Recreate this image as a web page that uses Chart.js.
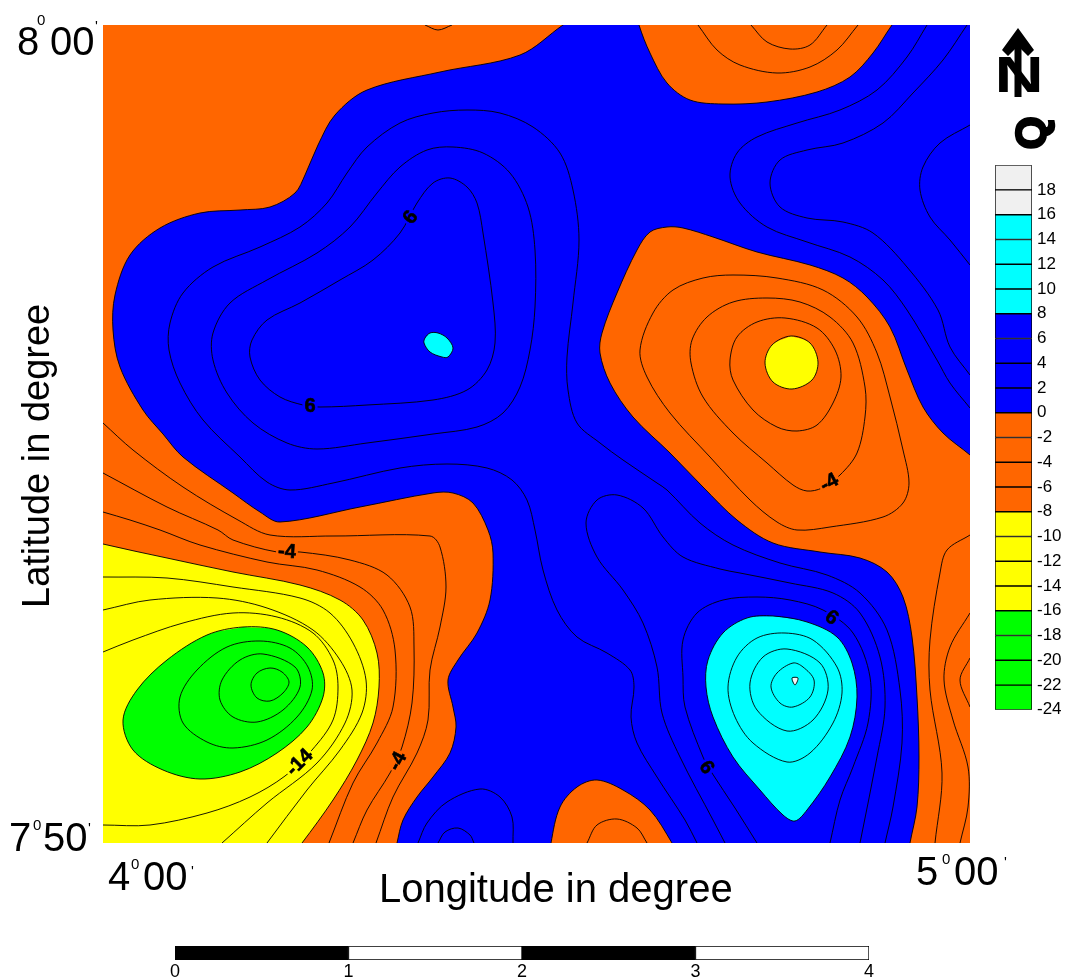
<!DOCTYPE html>
<html>
<head>
<meta charset="utf-8">
<title>Q map</title>
<script src="https://cdn.jsdelivr.net/npm/chart.js@4"></script>
<style>
    html, body { margin: 0; padding: 0; background: #fff; overflow: hidden; }
    canvas { position: absolute; display: block; }
    #mapChart { left: 0; top: 0; }
    #legendChart { left: 994px; top: 150px; }
    #scaleChart { left: 165px; top: 940px; }
</style>
</head>
<body>
<canvas id="mapChart" width="1066" height="978"></canvas>
<canvas id="legendChart" width="72" height="575"></canvas>
<canvas id="scaleChart" width="715" height="38"></canvas>
<script>
// --- Datos del mapa: [x, y] en unidades de mapa (0-867, 0-818) ---

const mapWidth = 867;
const mapHeight = 818;
const curveTension = 0.33;

// zonas rellenas
const baseBlue = [[-60, -60], [930, -60], [930, 880], [-60, 880]];
const orangeWest = [[507, 848], [460, 818], [417, 788], [337, 771], [264, 753], [232, 728], [215, 698], [202, 668], [192, 650], [167, 636], [137, 633], [97, 630], [57, 615], [27, 588], [12, 548], [10, 513], [17, 476], [40, 433], [60, 409], [80, 386], [130, 350], [157, 331], [177, 321], [257, 336], [330, 350], [350, 350], [370, 340], [385, 313], [390, 290], [387, 243], [374, 210], [355, 183], [345, 163], [350, 136], [353, 116], [347, 90], [330, 66], [314, 46], [300, 23], [294, 0], [285, -40], [-60, -60], [-60, 880], [507, 880]];
const orangeNorth = [[527, 853], [536, 818], [547, 790], [564, 760], [587, 743], [620, 739], [664, 741], [714, 751], [747, 766], [770, 790], [789, 818], [812, 848], [812, 880], [527, 880]];
const orangeEast = [[907, 353], [867, 388], [840, 410], [820, 436], [804, 473], [787, 516], [764, 546], [740, 565], [707, 578], [654, 591], [610, 606], [580, 615], [564, 616], [547, 611], [534, 593], [514, 550], [499, 510], [497, 490], [507, 460], [530, 426], [567, 390], [600, 356], [634, 323], [670, 300], [717, 291], [757, 285], [784, 271], [800, 246], [809, 206], [814, 146], [816, 86], [814, 36], [807, 0], [800, -40], [930, -60], [930, 353]];
const orangeSouth = [[445, -27], [448, 0], [457, 36], [474, 56], [494, 63], [520, 53], [547, 33], [569, 0], [585, -30]];
const yellowWest = [[-40, 310], [0, 299], [64, 285], [130, 271], [197, 258], [237, 243], [260, 223], [274, 190], [276, 156], [270, 120], [254, 83], [230, 43], [199, 0], [175, -30], [-60, -60], [-60, 310]];

// zonas cerradas
const greenCore = [[140, 216], [104, 208], [64, 183], [34, 153], [20, 123], [30, 93], [60, 73], [97, 64], [137, 71], [174, 90], [204, 116], [220, 146], [220, 170], [204, 196], [174, 213]];
const yellowCore = [[688, 507], [707, 500], [715, 481], [709, 463], [689, 454], [670, 461], [662, 480], [669, 498]];
const cyanDrop = [[670, 227], [644, 225], [620, 210], [605, 183], [603, 156], [610, 126], [630, 86], [657, 53], [680, 28], [692, 22], [704, 33], [727, 66], [747, 106], [754, 146], [749, 180], [734, 206], [704, 221]];
const cyanIsland = [[322, 505], [327, 510], [335, 510], [344, 505], [350, 495], [345, 486], [339, 486], [327, 491], [321, 500]];
const whitePeak = [[689, 165], [695, 165], [692, 158]];

// isolineas cerradas
const greenRing1 = [[157, 202], [124, 196], [94, 173], [77, 146], [80, 120], [104, 101], [130, 95], [164, 103], [194, 126], [209, 153], [205, 176], [187, 195]];
const greenRing2 = [[160, 189], [137, 183], [119, 163], [117, 143], [130, 126], [154, 121], [180, 133], [197, 156], [192, 176]];
const greenRing3 = [[167, 175], [154, 170], [148, 158], [154, 145], [167, 142], [180, 150], [186, 161], [179, 171]];
const cyanRing1 = [[682, 210], [654, 205], [634, 186], [625, 156], [632, 126], [650, 100], [684, 81], [707, 90], [730, 120], [739, 150], [734, 176], [710, 203]];
const cyanRing2 = [[684, 194], [660, 186], [647, 160], [654, 133], [684, 112], [710, 123], [725, 153], [717, 180]];
const cyanRing3 = [[690, 180], [674, 170], [668, 156], [677, 140], [690, 136], [707, 146], [711, 163], [700, 176]];
const blueRing2 = [[350, 696], [324, 693], [297, 676], [274, 650], [247, 616], [214, 590], [164, 563], [127, 540], [110, 510], [110, 483], [124, 450], [150, 420], [184, 400], [214, 394], [264, 400], [330, 409], [374, 416], [400, 430], [417, 456], [427, 493], [432, 536], [432, 593], [425, 636], [407, 670], [380, 690]];
const blueRing3 = [[347, 665], [330, 660], [314, 640], [297, 610], [270, 583], [237, 563], [197, 540], [164, 523], [149, 503], [147, 486], [157, 463], [177, 446], [200, 438], [217, 436], [264, 438], [330, 443], [364, 453], [384, 473], [392, 500], [390, 540], [380, 610], [374, 640], [364, 656]];
const eastRing1 = [[630, 568], [600, 565], [570, 553], [550, 530], [537, 493], [544, 466], [567, 430], [607, 386], [647, 343], [674, 321], [694, 313], [727, 316], [780, 326], [800, 340], [806, 360], [800, 393], [787, 446], [774, 490], [754, 526], [720, 553], [674, 565]];
const eastRing2 = [[664, 545], [630, 541], [604, 526], [589, 503], [588, 480], [600, 446], [630, 410], [664, 380], [690, 358], [704, 352], [719, 355], [737, 368], [754, 390], [762, 426], [762, 456], [750, 500], [727, 526], [697, 541]];
const eastRing3 = [[682, 525], [654, 521], [634, 506], [627, 483], [630, 463], [650, 433], [674, 416], [694, 412], [714, 418], [730, 440], [738, 466], [732, 493], [714, 515]];

// isolineas abiertas (salen por el borde del mapa)
const yellowLine1 = [[0, 266], [64, 265], [130, 256], [197, 245], [227, 230], [250, 200], [263, 163], [259, 130], [237, 93], [204, 53], [164, 0]];
const yellowLine2 = [[0, 233], [47, 243], [114, 245], [164, 235], [210, 213], [237, 183], [249, 153], [242, 120], [214, 80], [164, 40], [119, 0]];
const yellowLine3 = [[0, 18], [47, 18], [104, 30], [147, 46], [182, 67], [209, 93], [230, 123], [235, 156], [230, 183], [210, 210], [174, 226], [130, 230], [80, 220], [30, 203], [0, 191]];
const westLine1 = [[0, 331], [27, 323], [57, 313], [97, 298], [164, 281], [214, 273], [257, 256], [280, 233], [292, 193], [290, 136], [274, 100], [250, 60], [226, 0]];
const westLine2 = [[0, 370], [64, 336], [115, 313], [130, 303], [174, 291], [197, 291], [247, 283], [284, 268], [307, 236], [311, 196], [309, 140], [299, 96], [287, 70], [264, 33], [250, 0]];
const westLine3 = [[0, 420], [30, 393], [80, 356], [135, 323], [167, 308], [230, 307], [327, 307], [337, 296], [343, 256], [337, 216], [327, 173], [325, 123], [314, 90], [290, 46], [273, 0]];
const topTick = [[322, 818], [335, 813], [349, 818]];
const blueLongLine = [[782, 0], [790, 36], [799, 100], [797, 153], [784, 213], [757, 250], [724, 268], [677, 280], [630, 298], [597, 320], [564, 353], [554, 360], [520, 383], [497, 400], [474, 420], [465, 453], [464, 486], [470, 540], [476, 603], [470, 653], [457, 690], [430, 716], [397, 730], [364, 733], [330, 730], [297, 720], [264, 696], [244, 670], [224, 640], [197, 616], [157, 596], [110, 576], [80, 550], [67, 520], [66, 493], [77, 460], [100, 423], [137, 386], [164, 361], [187, 353], [230, 360], [297, 375], [344, 379], [384, 375], [409, 363], [424, 343], [432, 313], [440, 273], [454, 233], [474, 206], [504, 190], [527, 173], [531, 156], [528, 126], [534, 100], [554, 66], [582, 23], [594, 0]];
const blueHookLine = [[622, 0], [610, 23], [577, 86], [559, 130], [554, 176], [540, 220], [520, 253], [494, 286], [483, 320], [494, 343], [514, 348], [540, 335], [560, 306], [580, 286], [617, 274], [637, 270], [687, 260], [730, 250], [757, 230], [777, 186], [782, 136], [774, 86], [757, 0]];
const blueDropLine = [[727, 0], [737, 43], [750, 76], [765, 120], [767, 166], [750, 210], [720, 233], [687, 243], [654, 246], [620, 243], [594, 230], [580, 203], [580, 166], [582, 136], [600, 86], [609, 70], [632, 35], [654, 0]];
const northLine1 = [[595, 818], [614, 793], [637, 778], [674, 770], [707, 776], [734, 793], [755, 818]];
const northLine2 = [[648, 818], [664, 801], [687, 794], [707, 798], [724, 818]];
const neLine1 = [[824, 818], [804, 786], [774, 753], [737, 733], [694, 720], [654, 706], [634, 690], [627, 666], [637, 640], [664, 616], [704, 601], [747, 586], [780, 563], [804, 533], [834, 483], [847, 460], [867, 435]];
const neLine2 = [[864, 818], [840, 783], [810, 750], [780, 720], [740, 700], [704, 693], [677, 683], [667, 660], [677, 636], [704, 625], [740, 621], [770, 610], [804, 576], [835, 533], [847, 496], [867, 468]];
const neLine3 = [[867, 718], [837, 700], [820, 676], [817, 653], [827, 626], [847, 603], [867, 578]];
const farEast1 = [[867, 308], [844, 293], [837, 270], [827, 203], [827, 153], [839, 70], [832, 0]];
const farEast2 = [[867, 230], [847, 196], [841, 163], [850, 123], [865, 76], [865, 36], [857, 0]];
const farEast3 = [[867, 185], [857, 163], [867, 136]];
const southBlue1 = [[315, 0], [324, 20], [344, 41], [377, 54], [397, 46], [409, 26], [410, 0]];
const southBlue2 = [[335, 0], [342, 11], [355, 15], [367, 8], [371, 0]];
const southOrange1 = [[484, 0], [494, 18], [514, 24], [534, 15], [544, 0]];

// etiquetas de isolinea
const contourLabels = ['6', '6', '-4', '-14', '-4', '-4', '6', '6'];
const contourLabelSpots = [[307, 626], [207, 438], [184, 292], [196, 81], [294, 82], [726, 361], [729, 226], [604, 76]];

// leyenda y barra de escala
const legendBreaks = [-24, -22, -20, -18, -16, -14, -12, -10, -8, -6, -4, -2, 0, 2, 4, 6, 8, 10, 12, 14, 16, 18, 20];
const scaleBarBreaks = [0, 1, 2, 3, 4];

const ORANGE = '#ff6600';
const YELLOW = '#ffff00';
const GREEN = '#00ff00';
const CYAN = '#00ffff';
const BLUE = '#0000ff';
const PALE = '#f0f0f0';

function classColor(low) {
    if (low >= 16) return PALE;
    if (low >= 8) return CYAN;
    if (low >= 0) return BLUE;
    if (low >= -8) return ORANGE;
    if (low >= -16) return YELLOW;
    return GREEN;
}

// --- Capas ---

const toPoints = list => list.map(p => ({ x: p[0], y: p[1] }));

function areaLayer(list, color, stroked) {
    return {
        data: toPoints(list),
        backgroundColor: color,
        borderColor: '#000',
        borderWidth: stroked ? 0.9 : 0,
        fill: 'shape',
        tension: curveTension
    };
}

function closedArea(list, color) {
    return areaLayer([...list, list[0]], color, false);
}

function openLine(list) {
    return { data: toPoints(list), borderColor: '#000', borderWidth: 0.9, fill: false, tension: curveTension };
}

// repite puntos en los extremos para que la curva cierre sin pico
function closedLine(list) {
    const wrapped = [list[list.length - 1], ...list, list[0], list[1]];
    const lastIndex = wrapped.length - 1;
    return {
        data: toPoints(wrapped),
        borderColor: '#000',
        borderWidth: 0.9,
        fill: false,
        tension: curveTension,
        segment: {
            borderColor: ctx => (ctx.p0DataIndex === 0 || ctx.p1DataIndex === lastIndex) ? 'transparent' : '#000'
        }
    };
}

const layers = [
    { ...areaLayer(baseBlue, BLUE, false), tension: 0 },
    areaLayer(orangeWest, ORANGE, true),
    areaLayer(orangeNorth, ORANGE, true),
    areaLayer(orangeEast, ORANGE, true),
    areaLayer(orangeSouth, ORANGE, true),
    areaLayer(yellowWest, YELLOW, true),
    closedArea(greenCore, GREEN),
    closedArea(yellowCore, YELLOW),
    closedArea(cyanDrop, CYAN),
    closedArea(cyanIsland, CYAN),
    closedArea(whitePeak, '#f4f4f4'),
    ...[greenCore, yellowCore, cyanDrop, cyanIsland, whitePeak, greenRing1, greenRing2, greenRing3, cyanRing1, cyanRing2, cyanRing3,
        blueRing2, blueRing3, eastRing1, eastRing2, eastRing3].map(closedLine),
    ...[yellowLine1, yellowLine2, yellowLine3, westLine1, westLine2, westLine3, topTick, blueLongLine, blueHookLine, blueDropLine,
        northLine1, northLine2, neLine1, neLine2, neLine3, farEast1, farEast2, farEast3, southBlue1, southBlue2, southOrange1].map(openLine)
];

// --- Textos del mapa ---

const labelAngles = [-55, 0, 3, -45, -62, -28, 35, 55];
const labelBacks = [BLUE, BLUE, ORANGE, YELLOW, ORANGE, ORANGE, BLUE, BLUE];

function drawContourLabels(chart) {
    const { ctx, scales } = chart;
    contourLabels.forEach((text, i) => {
        const px = scales.x.getPixelForValue(contourLabelSpots[i][0]);
        const py = scales.y.getPixelForValue(contourLabelSpots[i][1]);
        ctx.save();
        ctx.translate(px, py);
        ctx.rotate(labelAngles[i] * Math.PI / 180);
        ctx.font = 'bold 20px "Liberation Sans"';
        ctx.textAlign = 'center';
        ctx.textBaseline = 'middle';
        const w = ctx.measureText(text).width;
        ctx.fillStyle = labelBacks[i];
        ctx.fillRect(-w / 2 - 2, -5, w + 4, 10);
        ctx.fillStyle = '#000';
        ctx.strokeStyle = '#000';
        ctx.lineWidth = 0.6;
        ctx.fillText(text, 0, 1);
        ctx.strokeText(text, 0, 1);
        ctx.restore();
    });
}

function putText(ctx, text, x, y, size) {
    ctx.font = `${size}px "Liberation Sans"`;
    ctx.fillText(text, x, y);
}

function drawDegreeLabels(ctx) {
    ctx.fillStyle = '#000';
    ctx.textAlign = 'left';
    ctx.textBaseline = 'alphabetic';

    putText(ctx, '8', 17, 55, 40);
    putText(ctx, '0', 37, 25, 15);
    putText(ctx, '00', 50, 55, 40);
    putText(ctx, "'", 95, 31, 15);

    putText(ctx, '7', 9, 851, 40);
    putText(ctx, '0', 33, 830, 15);
    putText(ctx, '50', 43, 851, 40);
    putText(ctx, "'", 88, 833, 15);

    putText(ctx, '4', 108, 890, 40);
    putText(ctx, '0', 131, 869, 15);
    putText(ctx, '00', 143, 890, 40);
    putText(ctx, "'", 191, 876, 15);

    putText(ctx, '5', 916, 885, 40);
    putText(ctx, '0', 942, 864, 15);
    putText(ctx, '00', 954, 885, 40);
    putText(ctx, "'", 1004, 867, 15);

    putText(ctx, 'Longitude in degree', 379, 902, 40);

    ctx.save();
    ctx.translate(49, 608);
    ctx.rotate(-Math.PI / 2);
    putText(ctx, 'Latitude in degree', 0, 0, 38);
    ctx.restore();
}

function drawNorthMark(ctx) {
    ctx.save();
    ctx.fillStyle = '#000';
    ctx.strokeStyle = '#000';

    // letra N con flecha
    ctx.save();
    ctx.translate(1019, 92);
    ctx.scale(1.42, 1.06);
    ctx.font = 'bold 48px "Liberation Sans"';
    ctx.textAlign = 'center';
    ctx.fillText('N', 0, 0);
    ctx.restore();

    ctx.lineWidth = 7;
    ctx.beginPath();
    ctx.moveTo(1018, 36);
    ctx.lineTo(1018, 97);
    ctx.stroke();
    ctx.beginPath();
    ctx.moveTo(1018, 28);
    ctx.lineTo(1034, 50);
    ctx.lineTo(1028, 56);
    ctx.lineTo(1018, 46);
    ctx.lineTo(1008, 56);
    ctx.lineTo(1002, 50);
    ctx.closePath();
    ctx.fill();

    // letra Q girada
    ctx.save();
    ctx.translate(1033, 133);
    ctx.rotate(-Math.PI / 2);
    ctx.font = 'bold 42px "Liberation Sans"';
    ctx.textAlign = 'center';
    ctx.textBaseline = 'middle';
    ctx.lineWidth = 2.5;
    ctx.fillText('Q', 0, 0);
    ctx.strokeText('Q', 0, 0);
    ctx.restore();
    ctx.restore();
}

const mapTextPlugin = {
    id: 'mapText',
    afterDraw(chart) {
        drawContourLabels(chart);
        drawDegreeLabels(chart.ctx);
        drawNorthMark(chart.ctx);
    }
};

// --- Graficos ---

new Chart(document.getElementById('mapChart'), {
    type: 'line',
    data: { datasets: layers.slice().reverse() },
    plugins: [mapTextPlugin],
    options: {
        responsive: false,
        animation: false,
        events: [],
        layout: { padding: { left: 103, right: 96, top: 25, bottom: 135 } },
        elements: {
            point: { radius: 0 },
            line: { capBezierPoints: false }
        },
        scales: {
            x: { type: 'linear', min: 0, max: mapWidth, display: false },
            y: { type: 'linear', min: 0, max: mapHeight, display: false }
        },
        plugins: {
            legend: { display: false },
            tooltip: { enabled: false }
        }
    }
});

new Chart(document.getElementById('legendChart'), {
    type: 'bar',
    data: {
        labels: ['Q'],
        datasets: legendBreaks.slice(0, -1).map((low, i) => ({
            data: [[low, legendBreaks[i + 1]]],
            backgroundColor: classColor(low),
            borderColor: '#000',
            borderWidth: 1,
            borderSkipped: false,
            grouped: false,
            barPercentage: 1,
            categoryPercentage: 1
        }))
    },
    options: {
        responsive: false,
        animation: false,
        events: [],
        layout: { padding: { left: 1, right: 0, top: 10, bottom: 14 } },
        scales: {
            x: { display: false },
            y: {
                position: 'right',
                min: -24,
                max: 20,
                afterFit: scale => { scale.width = 34; },
                grid: { display: false, drawTicks: false },
                border: { display: false },
                ticks: {
                    stepSize: 2,
                    autoSkip: false,
                    padding: 5,
                    color: '#000',
                    font: { family: '"Liberation Sans"', size: 17 },
                    callback: value => (value === 20 ? '' : value)
                }
            }
        },
        plugins: {
            legend: { display: false },
            tooltip: { enabled: false }
        }
    }
});

new Chart(document.getElementById('scaleChart'), {
    type: 'bar',
    data: {
        labels: ['km'],
        datasets: scaleBarBreaks.slice(0, -1).map((start, i) => ({
            data: [[start, scaleBarBreaks[i + 1]]],
            backgroundColor: i % 2 === 0 ? '#000' : '#fff',
            borderColor: '#000',
            borderWidth: 1,
            borderSkipped: false,
            grouped: false,
            barPercentage: 1,
            categoryPercentage: 1
        }))
    },
    options: {
        indexAxis: 'y',
        responsive: false,
        animation: false,
        events: [],
        layout: { padding: { left: 10, right: 11, top: 6, bottom: 0 } },
        scales: {
            y: { display: false },
            x: {
                type: 'linear',
                min: 0,
                max: 4,
                afterFit: scale => { scale.height = 18; },
                grid: { display: false, drawTicks: false },
                border: { display: false },
                ticks: {
                    stepSize: 1,
                    padding: 1,
                    maxRotation: 0,
                    color: '#000',
                    font: { family: '"Liberation Sans"', size: 18 }
                }
            }
        },
        plugins: {
            legend: { display: false },
            tooltip: { enabled: false }
        }
    }
});
</script>
</body>
</html>
